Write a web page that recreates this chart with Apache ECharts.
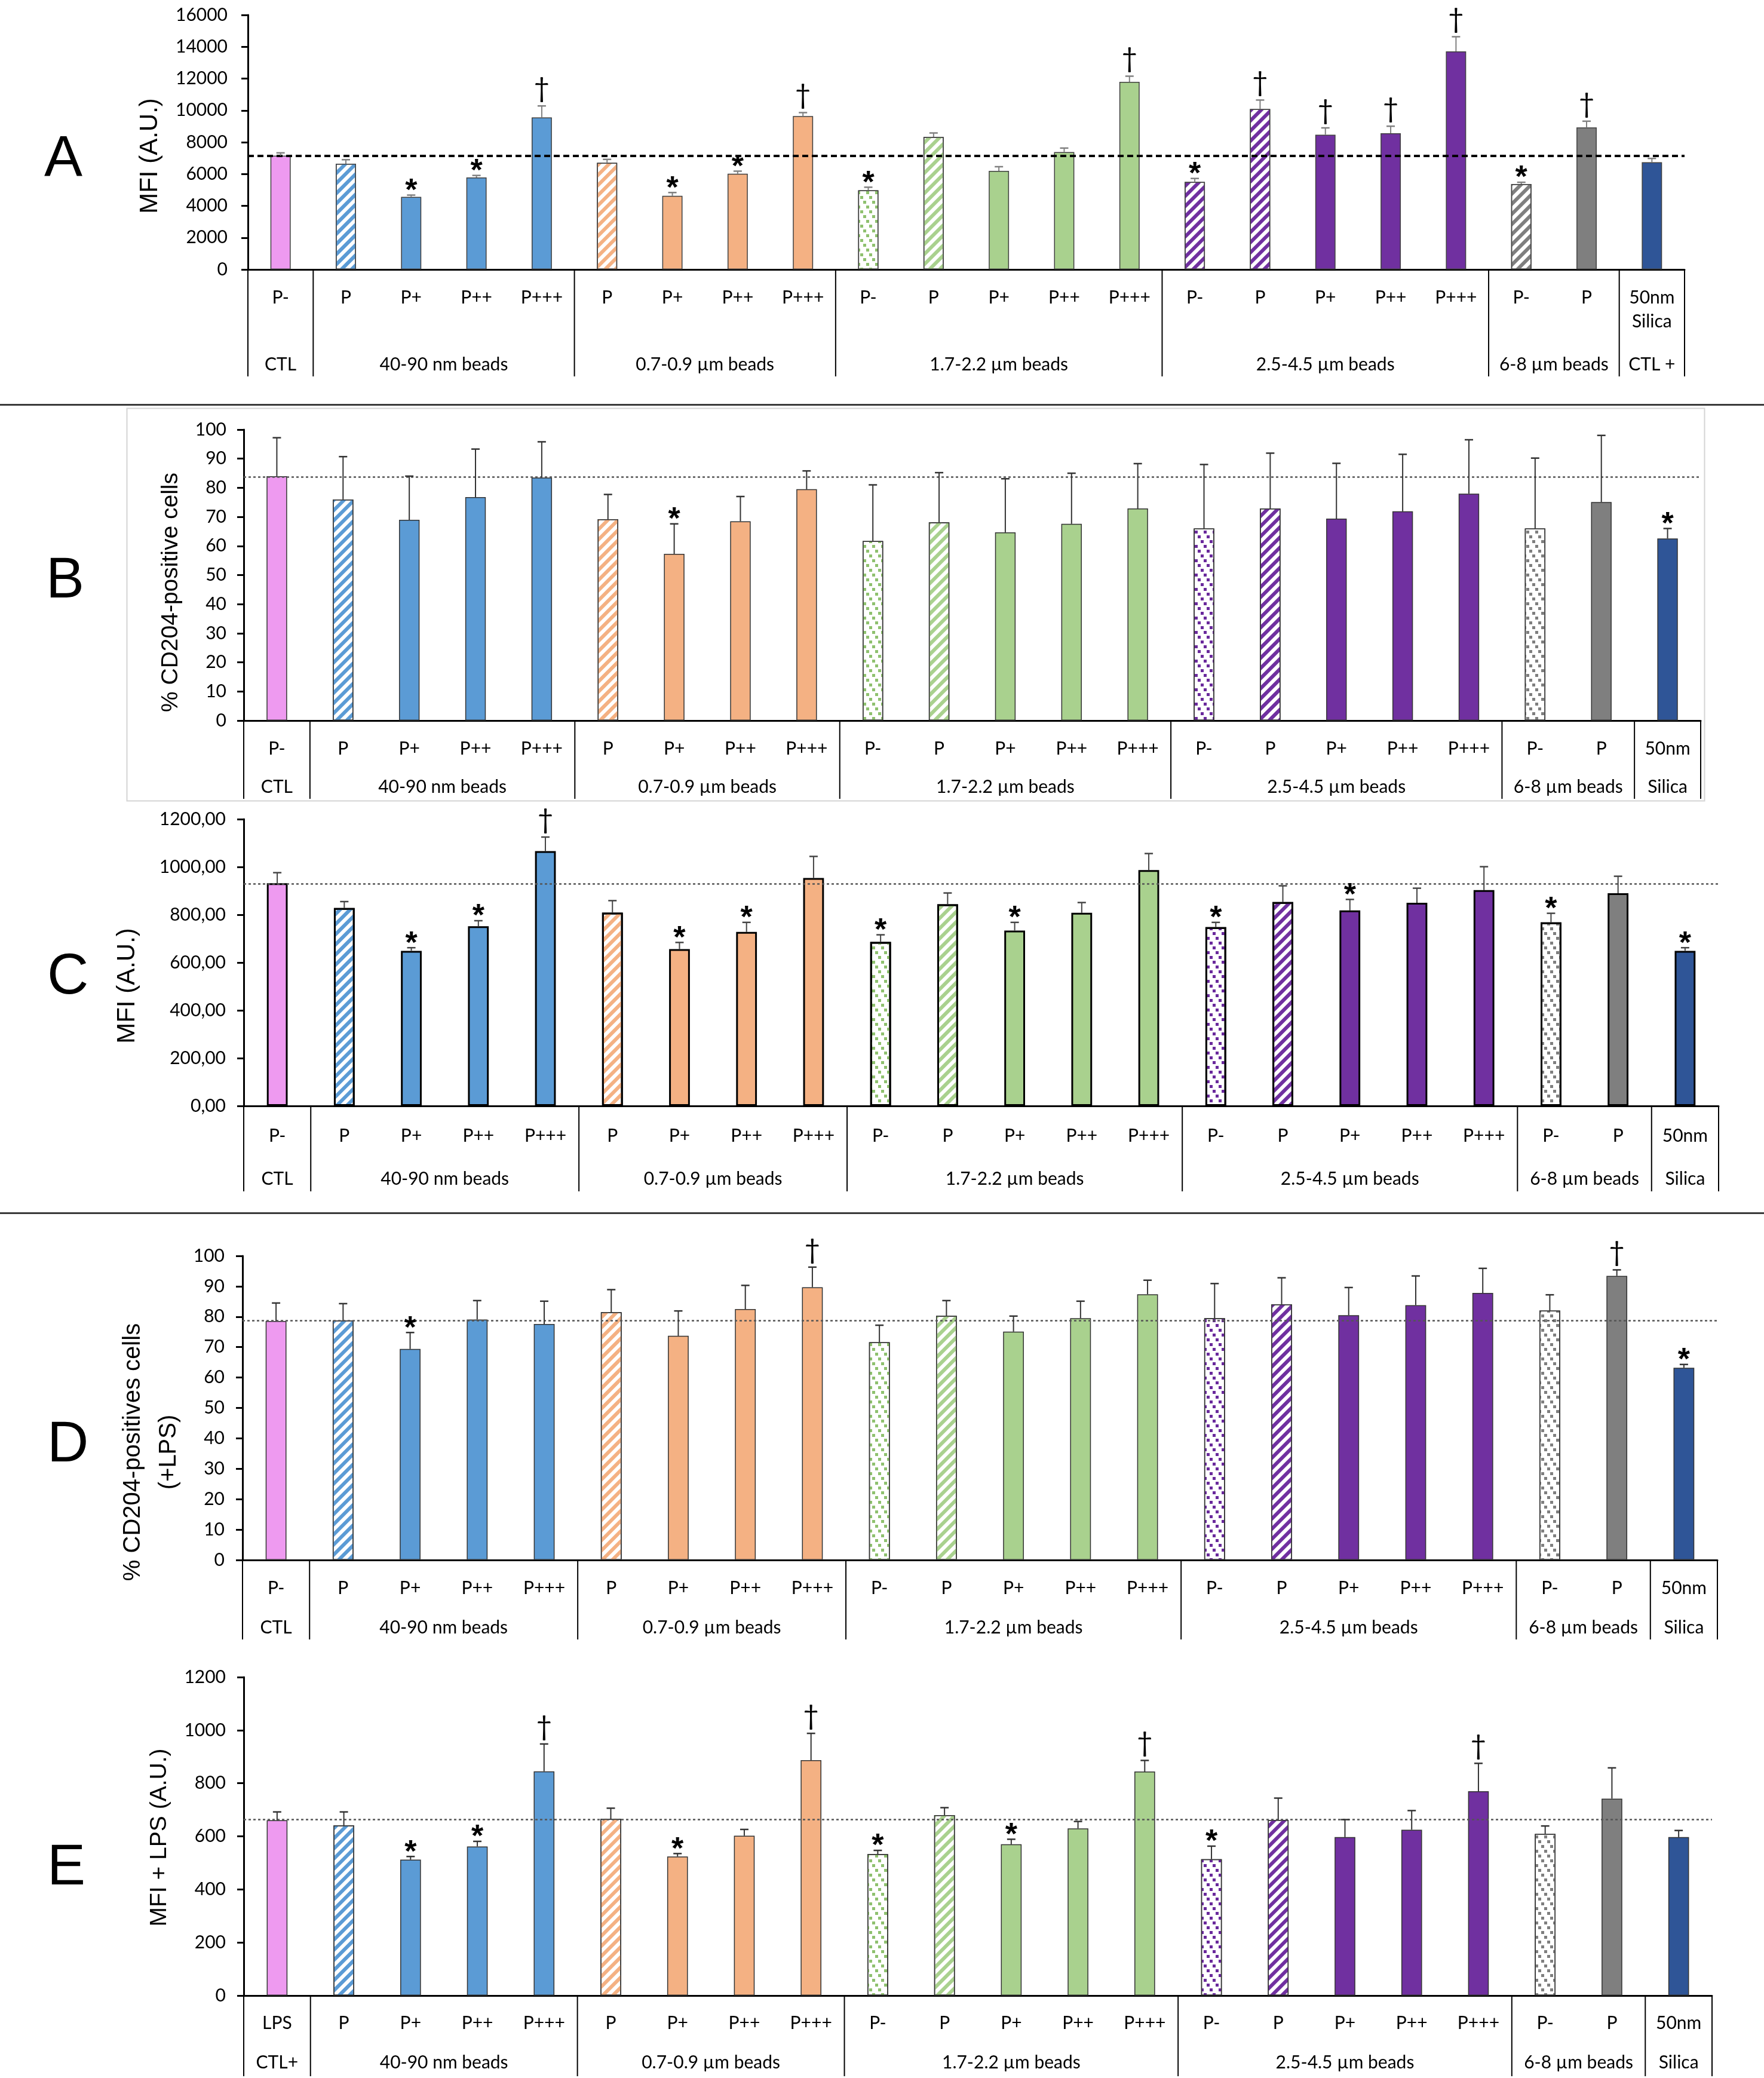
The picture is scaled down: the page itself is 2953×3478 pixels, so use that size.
<!DOCTYPE html>
<html><head><meta charset="utf-8">
<script src="https://cdn.jsdelivr.net/npm/echarts@6/dist/echarts.min.js"></script>
<style>html,body{margin:0;padding:0;background:#fff}#c{width:2953px;height:3478px}</style>
</head><body><div id="c"></div>
<script>
// ---------------- DATA ----------------
const catsA = ['P-','P','P+','P++','P+++','P','P+','P++','P+++','P-','P','P+','P++','P+++','P-','P','P+','P++','P+++','P-','P','50nm\nSilica'];
const catsBCD = ['P-','P','P+','P++','P+++','P','P+','P++','P+++','P-','P','P+','P++','P+++','P-','P','P+','P++','P+++','P-','P','50nm'];
const catsE = ['LPS','P','P+','P++','P+++','P','P+','P++','P+++','P-','P','P+','P++','P+++','P-','P','P+','P++','P+++','P-','P','50nm'];
const groupsA = ['CTL','40-90 nm beads','0.7-0.9 \u00b5m beads','1.7-2.2 \u00b5m beads','2.5-4.5 \u00b5m beads','6-8 \u00b5m beads','CTL +'];
const groupsBCD = ['CTL','40-90 nm beads','0.7-0.9 \u00b5m beads','1.7-2.2 \u00b5m beads','2.5-4.5 \u00b5m beads','6-8 \u00b5m beads','Silica'];
const groupsE = ['CTL+','40-90 nm beads','0.7-0.9 \u00b5m beads','1.7-2.2 \u00b5m beads','2.5-4.5 \u00b5m beads','6-8 \u00b5m beads','Silica'];
const groupSpans = [[0,0],[1,4],[5,8],[9,13],[14,18],[19,20],[21,21]];
const groupOfCat = [0,1,1,1,1,2,2,2,2,3,3,3,3,3,4,4,4,4,4,5,5,6];

const meanA = [7155,6650,4565,5780,9555,6700,4630,6020,9640,4980,8330,6195,7380,11790,5500,10080,8470,8560,13710,5370,8925,6745];
const sdA   = [175,250,110,130,725,220,205,160,220,190,250,265,250,360,220,570,430,445,920,110,395,235];
const refA = 7140;
const markA = ['','','*','*','\u2020','','*','*','\u2020','*','','','','\u2020','*','\u2020','\u2020','\u2020','\u2020','*','\u2020',''];

const meanB = [84,76,69,76.8,83.5,69.2,57.3,68.5,79.5,61.7,68.1,64.7,67.6,72.9,66.0,72.9,69.4,71.9,78.0,66.0,75.1,62.6];
const sdB   = [13.2,14.7,15,16.5,12.3,8.5,10.3,8.5,6.3,19.3,17.1,18.4,17.4,15.4,22,19,19,19.6,18.5,24.2,22.9,3.4];
const refB = 83.7;
const markB = ['','','','','','','*','','','','','','','','','','','','','','','*'];

const meanC = [932,828,649,752,1066,809,656,728,954,686,844,734,808,987,748,853,818,850,903,768,890,649];
const sdC   = [44,27,13,23,59,50,28,40,90,30,47,34,43,69,20,68,46,61,98,38,71,13];
const refC = 930;
const markC = ['','','*','*','\u2020','','*','*','','*','','*','','','*','','*','','','*','','*'];

const meanD = [78.6,78.8,69.4,79.1,77.6,81.5,73.7,82.5,89.7,71.6,80.3,75.1,79.5,87.4,79.5,84.1,80.5,83.8,87.8,82.0,93.4,63.2];
const sdD   = [5.9,5.5,5.4,6.2,7.5,7.4,8.2,7.8,6.6,5.6,5.0,5.1,5.6,4.6,11.4,8.7,9.1,9.6,8.1,5.2,2.0,1.1];
const refD = 78.8;
const markD = ['','','*','','','','','','\u2020','','','','','','','','','','','','\u2020','*'];

const meanE = [661,641,512,562,845,666,524,602,887,533,680,570,630,844,514,662,597,625,770,609,742,597];
const sdE   = [31,51,12,19,103,40,11,24,101,14,28,19,26,42,49,82,66,72,105,30,116,25];
const refE = 664;
const markE = ['','','*','*','\u2020','','*','','\u2020','*','','*','','\u2020','*','','','','\u2020','','',''];

// fill type per bar: s = solid, h = hatched, d = dotted
const fillA  = ['s','h','s','s','s','h','s','s','s','d','h','s','s','s','h','h','s','s','s','h','s','s'];
const fillBE = ['s','h','s','s','s','h','s','s','s','d','h','s','s','s','d','h','s','s','s','d','s','s'];

const ticksA = [0,2000,4000,6000,8000,10000,12000,14000,16000];
const ticksB = [0,10,20,30,40,50,60,70,80,90,100];
const ticksC = [0,200,400,600,800,1000,1200];
const ticksD = [0,10,20,30,40,50,60,70,80,90,100];
const ticksE = [0,200,400,600,800,1000,1200];

// ---------------- STYLE / LAYOUT ----------------
const groupColors = ['#EE9AF0','#5B9BD5','#F4B183','#A9D18E','#7030A0','#7F7F7F','#2F5597'];
const dotColors   = ['#EE9AF0','#5B9BD5','#F4B183','#8FC16F','#6A2A9C','#7F7F7F','#2F5597'];
const LBL = 'Lato';
const TITLE = 'Liberation Sans';

const panels = [
  {letter:'A', lx:108, ly:262, cats:catsA, groups:groupsA, mean:meanA, sd:sdA, ref:refA, marks:markA, fills:fillA, ticks:ticksA,
   name:'MFI (A.U.)', nameGap:134, nameSize:42, nameShift:23, fmt:v=>String(v),
   grid:{left:415, top:25, width:2405, height:426}, lblMargin:27, tickMargin:34, grpOff:159, sepLen:179,
   border:'#404040', bw:1.5, err:'#808080', refStyle:{color:'#000', width:4, type:[10,6]}},
  {letter:'B', lx:111, ly:968, cats:catsBCD, groups:groupsBCD, mean:meanB, sd:sdB, ref:refB, marks:markB, fills:fillBE, ticks:ticksB,
   name:'% CD204-positive cells', nameGap:89, nameSize:39, nameShift:29, fmt:v=>String(v),
   grid:{left:408, top:719, width:2439, height:487}, lblMargin:27, tickMargin:29, grpOff:111, sepLen:131,
   border:'#333', bw:1.5, err:'#333', refStyle:{color:'#555', width:2.5, type:[4,4]}},
  {letter:'C', lx:113, ly:1631, cats:catsBCD, groups:groupsBCD, mean:meanC, sd:sdC, ref:refC, marks:markC, fills:fillBE, ticks:ticksC,
   name:'MFI (A.U.)', nameGap:165, nameSize:42, nameShift:39, fmt:v=>v.toFixed(2).replace('.', ','),
   grid:{left:408, top:1371, width:2469, height:480}, lblMargin:30, tickMargin:30, grpOff:122, sepLen:143,
   border:'#000', bw:3, err:'#444', refStyle:{color:'#555', width:2.5, type:[4,4]}},
  {letter:'D', lx:113, ly:2414, cats:catsBCD, groups:groupsBCD, mean:meanD, sd:sdD, ref:refD, marks:markD, fills:fillBE, ticks:ticksD,
   name:'% CD204-positives cells\n(+LPS)', nameGap:85, nameSize:40, nameShift:74, fmt:v=>String(v),
   grid:{left:406, top:2102, width:2469, height:509}, lblMargin:27, tickMargin:30, grpOff:113, sepLen:133,
   border:'#333', bw:1.5, err:'#333', refStyle:{color:'#555', width:2.5, type:[4,4]}},
  {letter:'E', lx:113, ly:3122, cats:catsE, groups:groupsE, mean:meanE, sd:sdE, ref:refE, marks:markE, fills:fillBE, ticks:ticksE,
   name:'MFI + LPS (A.U.)', nameGap:108, nameSize:39, nameShift:2, fmt:v=>String(v),
   grid:{left:408, top:2807, width:2458, height:533}, lblMargin:26, tickMargin:30, grpOff:112, sepLen:135,
   border:'#333', bw:1.5, err:'#333', refStyle:{color:'#555', width:2.5, type:[4,4]}}
];

function hatch(c){ return {symbol:'rect', symbolSize:1, dashArrayX:[1,0], dashArrayY:[6,6], rotation:-Math.PI/4, color:c}; }
function dots(c){ return {symbol:'rect', symbolSize:1, dashArrayX:[[5,10],[0,5,5,5],[0,10,5,0]], dashArrayY:[5,3], color:c}; }

const grids = [], xAxes = [], yAxes = [], series = [], graphics = [];

panels.forEach((p, k) => {
  grids.push(Object.assign({containLabel:false}, p.grid));
  xAxes.push({
    type:'category', gridIndex:k, data:p.cats, boundaryGap:true,
    axisLine:{show:true, lineStyle:{color:'#000', width:3}},
    axisTick:{show:false},
    axisLabel:{interval:0, margin:p.lblMargin, fontFamily:LBL, fontSize:30, color:'#000', lineHeight:40}
  });
  yAxes.push({
    type:'value', gridIndex:k, min:p.ticks[0], max:p.ticks[p.ticks.length-1], interval:p.ticks[1]-p.ticks[0],
    name:p.name, nameLocation:'middle', nameGap:p.nameGap,
    nameTextStyle:{fontFamily:TITLE, fontSize:p.nameSize, color:'#000', lineHeight:60,
                   padding:[0, 2 * p.nameShift, 0, 0]},
    axisLine:{show:true, lineStyle:{color:'#000', width:3}},
    axisTick:{show:true, inside:false, length:11, lineStyle:{color:'#000', width:3}},
    splitLine:{show:false},
    axisLabel:{margin:p.tickMargin, fontFamily:LBL, fontSize:30, color:'#000', formatter:p.fmt}
  });
  const barData = p.mean.map((v, i) => {
    const g = groupOfCat[i];
    const f = p.fills[i];
    const st = {borderColor:p.border, borderWidth:p.bw};
    if (f === 's') st.color = groupColors[g];
    else if (f === 'h') { st.color = '#fff'; st.decal = hatch(groupColors[g]); }
    else { st.color = '#fff'; st.decal = dots(dotColors[g]); }
    return {value:v, itemStyle:st};
  });
  series.push({
    type:'bar', xAxisIndex:k, yAxisIndex:k, data:barData, barWidth:'31%', z:2,
    markLine:{silent:true, symbol:'none', label:{show:false}, animation:false,
      lineStyle:p.refStyle, data:[{yAxis:p.ref}]}
  });
  series.push({
    type:'custom', xAxisIndex:k, yAxisIndex:k, z:5, clip:false,
    data:p.mean.map((v, i) => [i, v, v + p.sd[i]]),
    encode:{x:0, y:[1,2]},
    renderItem:function(params, api){
      const i = api.value(0), m = api.value(1), t = api.value(2);
      const a = api.coord([i, m]), b = api.coord([i, t]);
      const ch = [
        {type:'line', shape:{x1:a[0], y1:a[1], x2:b[0], y2:b[1]}, style:{stroke:p.err, lineWidth:2}},
        {type:'line', shape:{x1:b[0]-7, y1:b[1], x2:b[0]+7, y2:b[1]}, style:{stroke:p.err, lineWidth:2.5}}
      ];
      const mk = p.marks[params.dataIndex];
      if (mk) {
        const isStar = mk === '*';
        ch.push({type:'text', x:b[0], y:b[1] + (isStar ? 20 : -6),
          style:{text:mk, fontFamily:isStar ? TITLE : LBL, fontWeight:isStar ? 'bold' : 'normal',
                 fontSize:isStar ? 52 : 46, fill:'#000', align:'center', verticalAlign:'bottom'}});
      }
      return {type:'group', children:ch};
    }
  });
  series.push({
    type:'custom', xAxisIndex:k, yAxisIndex:k, z:5, clip:false, silent:true,
    data:groupSpans.map(s => [s[0], 0, s[1]]),
    encode:{x:0, y:1},
    renderItem:function(params, api){
      const s = api.value(0), e = api.value(2);
      const a = api.coord([s, 0]);
      const bwid = api.size([1, 0])[0];
      const xl = a[0] - bwid / 2, xr = api.coord([e, 0])[0] + bwid / 2, y0 = a[1];
      const ch = [{type:'line', shape:{x1:xl, y1:y0, x2:xl, y2:y0 + p.sepLen}, style:{stroke:'#000', lineWidth:2}}];
      if (params.dataIndex === groupSpans.length - 1)
        ch.push({type:'line', shape:{x1:xr, y1:y0, x2:xr, y2:y0 + p.sepLen}, style:{stroke:'#000', lineWidth:2}});
      ch.push({type:'text', x:(xl + xr) / 2, y:y0 + p.grpOff,
        style:{text:p.groups[params.dataIndex], fontFamily:LBL, fontSize:30, fill:'#000', align:'center', verticalAlign:'middle'}});
      return {type:'group', children:ch};
    }
  });
  graphics.push({type:'text', left:p.lx - 34, top:p.ly - 42, z:10,
    style:{text:p.letter, fontFamily:TITLE, fontSize:96, fill:'#000'}});
});

graphics.push({type:'rect', left:210, top:681, z:-1, shape:{width:2641, height:657}, style:{fill:'none', stroke:'#d4d4d4', lineWidth:2}});
graphics.push({type:'rect', left:0, top:676, z:10, shape:{width:2953, height:3}, style:{fill:'#3a3a3a'}});
graphics.push({type:'rect', left:0, top:2029, z:10, shape:{width:2953, height:3}, style:{fill:'#3a3a3a'}});

const chart = echarts.init(document.getElementById('c'), null, {renderer:'canvas'});
chart.setOption({
  backgroundColor:'#fff',
  animation:false,
  grid:grids, xAxis:xAxes, yAxis:yAxes, series:series, graphic:graphics
});
</script></body></html>
